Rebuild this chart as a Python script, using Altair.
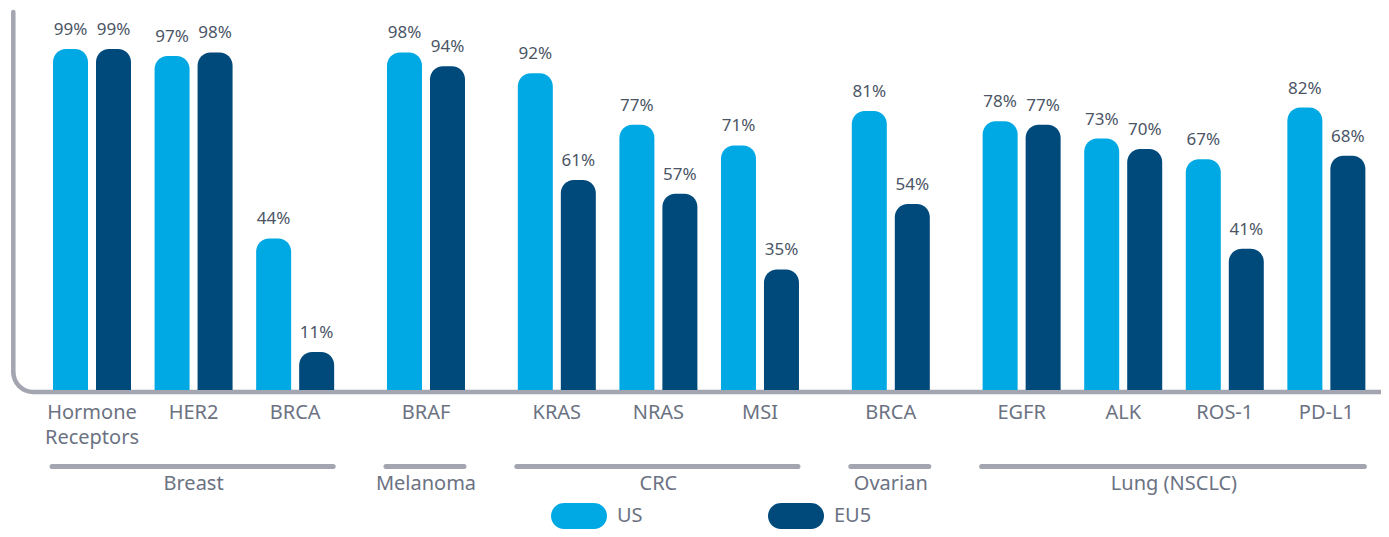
import altair as alt
import pandas as pd

categories = ["Hormone\nReceptors", "HER2", "BRCA", "BRAF", "KRAS", "NRAS", "MSI",
              "BRCA", "EGFR", "ALK", "ROS-1", "PD-L1"]
groups = ["Breast", "Breast", "Breast", "Melanoma", "CRC", "CRC", "CRC",
          "Ovarian", "Lung (NSCLC)", "Lung (NSCLC)", "Lung (NSCLC)", "Lung (NSCLC)"]
group_order = ["Breast", "Melanoma", "CRC", "Ovarian", "Lung (NSCLC)"]
us = [99, 97, 44, 98, 92, 77, 71, 81, 78, 73, 67, 82]
eu5 = [99, 98, 11, 94, 61, 57, 35, 54, 77, 70, 41, 68]
series = ["US", "EU5"]
colors = ["#00A9E3", "#00497B"]

GAP = 0.288  # extra space between cancer groups, in category steps
W, H = 1373, 521
STEP = 102.4
X0 = 79  # pixel centre of first category

rows = []
cat_rows = []
for i, (c, g) in enumerate(zip(categories, groups)):
    pos = i + GAP * group_order.index(g)
    cat_rows.append({"cat": c, "group": g, "pos": pos})
    rows.append({"cat": c, "group": g, "pos": pos, "series": "US", "value": us[i]})
    rows.append({"cat": c, "group": g, "pos": pos, "series": "EU5", "value": eu5[i]})
df = pd.DataFrame(rows)
cats = pd.DataFrame(cat_rows)
grp = cats.groupby("group", sort=False)["pos"].agg(["min", "max"]).reset_index()
grp["mid"] = (grp["min"] + grp["max"]) / 2

xmax_pos = cats["pos"].max()
xscale = alt.Scale(domain=[0, xmax_pos], range=[X0, X0 + STEP * xmax_pos], zero=False, nice=False)
yscale = alt.Scale(domain=[0, 100], range=[382, 382 - 344.4], nice=False, zero=False)

FONT = "Noto Sans"
LABEL_C = "#6B7282"
VALUE_C = "#4B5565"
AXIS_C = "#A3A5B0"

pill = ("M-0.536,-0.464 L0.536,-0.464 A0.464,0.464 0 0 1 0.536,0.464 "
        "L-0.536,0.464 A0.464,0.464 0 0 1 -0.536,-0.464 Z")

x = alt.X("pos:Q", scale=xscale, axis=None)
y = alt.Y("value:Q", scale=yscale, axis=None)
color = alt.Color("series:N", scale=alt.Scale(domain=series, range=colors),
                  legend=alt.Legend(
                      title=None, orient="none", direction="horizontal",
                      legendX=543, legendY=480,
                      symbolType=pill,
                      symbolSize=3136, symbolStrokeWidth=0, symbolOpacity=1,
                      labelFont=FONT, labelFontSize=20, labelColor=LABEL_C,
                      labelOffset=10, columnPadding=125))

bars = []
texts = []
for s, off in zip(series, [-21.5, 21.5]):
    sub = alt.Chart(df).transform_filter(alt.datum.series == s)
    bars.append(sub.mark_bar(width=35, xOffset=off, cornerRadiusTopLeft=13,
                             cornerRadiusTopRight=13).encode(
        x=x, y=y, y2=alt.datum(0), color=color))
    texts.append(sub.transform_calculate(label="datum.value + '%'").mark_text(
        xOffset=off, dy=-14, baseline="alphabetic",
        font=FONT, fontSize=17, color=VALUE_C).encode(x=x, y=y, text="label:N"))

cat_text = alt.Chart(cats).mark_text(baseline="alphabetic", font=FONT, fontSize=20,
                                     color=LABEL_C, lineBreak="\n", lineHeight=25).encode(
    x=x, y=alt.value(411), text="cat:N")

grp_rule = alt.Chart(grp).mark_rule(strokeWidth=5, strokeCap="round", color=AXIS_C,
                                    xOffset=-40, x2Offset=38).encode(
    x=alt.X("min:Q", scale=xscale, axis=None), x2="max:Q", y=alt.value(458.5))
grp_text = alt.Chart(grp).mark_text(baseline="alphabetic", font=FONT, fontSize=20,
                                    color=LABEL_C).encode(
    x=alt.X("mid:Q", scale=xscale, axis=None), y=alt.value(482), text="group:N")

one = pd.DataFrame({"k": [0]})
vline = alt.Chart(one).mark_rule(strokeWidth=4.5, strokeCap="round", color=AXIS_C).encode(
    x=alt.value(5.3), y=alt.value(4), y2=alt.value(364))
hline = alt.Chart(one).mark_rule(strokeWidth=4.5, color=AXIS_C).encode(
    x=alt.value(25), x2=alt.value(W + 10), y=alt.value(384))
corner = alt.Chart(one).mark_arc(theta=3.14159, theta2=4.71239, radius=17.75, radius2=22.25,
                                 color=AXIS_C).encode(
    x=alt.value(25.3), y=alt.value(364))

chart = alt.layer(vline, hline, corner, *bars, *texts, cat_text, grp_rule, grp_text).properties(
    width=W, height=H, autosize=alt.AutoSizeParams(type="none"), padding=0
).configure_view(stroke=None)

chart.save("out.html", embed_options={"renderer": "svg", "actions": False})
